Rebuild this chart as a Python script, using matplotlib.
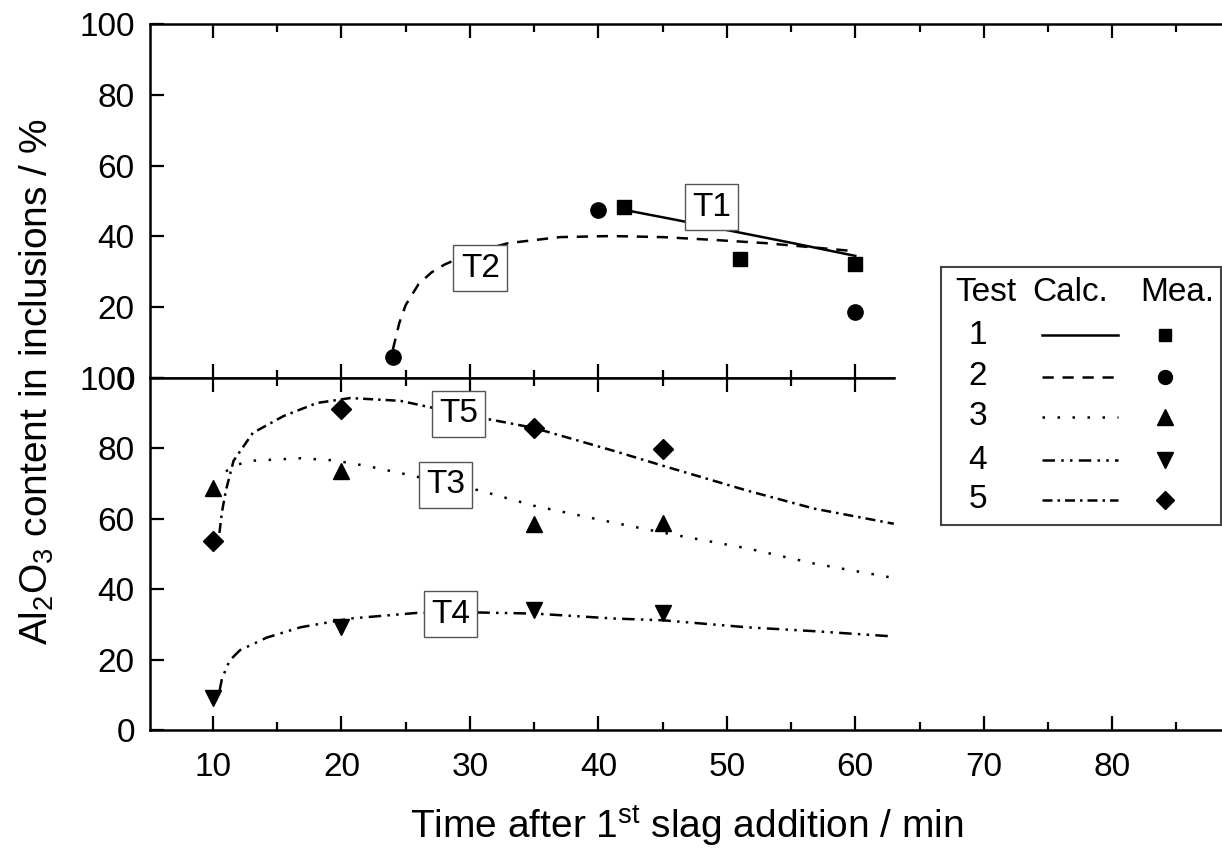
import matplotlib.pyplot as plt
from matplotlib.ticker import MultipleLocator

plt.rcParams['font.family'] = ['Liberation Sans', 'DejaVu Sans']
plt.rcParams['mathtext.default'] = 'regular'

# ---- data ----
# upper panel: tests 1 and 2
t1_x = [42, 51, 60]
t1_y = [48.3, 33.6, 32.2]
t1_calc_x = [42, 46, 50, 55, 60]
t1_calc_y = [47.5, 44.7, 41.8, 38.2, 34.5]

t2_x = [24, 40, 60]
t2_y = [5.9, 47.5, 18.6]
t2_calc_x = [24, 24.5, 25, 26, 27, 28, 30, 33, 37, 41, 45, 49, 53, 57, 60]
t2_calc_y = [8, 15.5, 20.6, 26.5, 29.8, 32, 35.2, 38.1, 39.8, 40.1, 39.8, 39, 38.1, 36.8, 35.8]

# lower panel: tests 3, 4, 5
meas_x = [10, 20, 35, 45]
t3_y = [68.8, 73.6, 58.4, 58.9]
t4_y = [9.1, 29.2, 34, 33.4]
t5_y = [53.8, 91.2, 85.8, 79.9]

t3_calc_x = [11, 12, 13.1, 16.8, 19.4, 22, 25.6, 30.8, 35, 41.2, 45, 51.6, 56.8, 63]
t3_calc_y = [73.5, 75.5, 76.5, 77.2, 76.6, 75, 72.2, 68, 63.7, 58.9, 56.1, 51.6, 47.3, 43.2]
t4_calc_x = [10.5, 10.7, 11.3, 12.1, 14.2, 16.8, 20.7, 25.9, 30.8, 35, 41.2, 45, 51.6, 56.8, 63]
t4_calc_y = [11, 14.7, 19.8, 22.7, 26.3, 29.2, 31.7, 33.3, 33.4, 33.1, 31.7, 31.2, 29.2, 28.1, 26.6]
t5_calc_x = [10.5, 10.7, 11, 11.6, 13.1, 15.5, 18.1, 20.7, 24.6, 27, 31.3, 35, 41.2, 45, 51.6, 56.8, 63]
t5_calc_y = [56, 62, 68, 76.5, 84.4, 89.2, 92.9, 94.3, 93.5, 91.6, 88.4, 85.8, 79.3, 75.1, 68, 62.9, 58.6]

top_labels = ['T1', 'T2']
top_label_x = [48.8, 30.8]
top_label_y = [48.3, 31]
bot_labels = ['T5', 'T3', 'T4']
bot_label_x = [29.1, 28.1, 28.5]
bot_label_y = [89.8, 69.7, 32.9]

x_ticks = [10, 20, 30, 40, 50, 60, 70, 80]

# ---- styles ----
lw = 1.8
ls1 = '-'
ls2 = (0, (4.5, 3.5))
ls3 = (0, (1, 5))
ls4 = (0, (5, 2.5, 1, 2.5, 1, 2.5))
ls5 = (0, (4, 2, 1, 2))
box = dict(boxstyle='square,pad=0.22', fc='white', ec='#555555', lw=1)

fig = plt.figure(figsize=(12.22, 8.59), dpi=100)
ax1 = fig.add_axes([0.1228, 0.560, 0.8788, 0.412])
ax2 = fig.add_axes([0.1228, 0.150, 0.8788, 0.410])

for ax in (ax1, ax2):
    ax.set_xlim(5.1, 88.7)
    ax.set_ylim(0, 100)
    ax.spines['right'].set_visible(False)
    for s in ax.spines.values():
        s.set_linewidth(1.8)
    ax.xaxis.set_major_locator(MultipleLocator(10))
    ax.xaxis.set_minor_locator(MultipleLocator(5))
    ax.yaxis.set_major_locator(MultipleLocator(20))
    ax.tick_params(axis='x', which='major', direction='in', top=True, bottom=True,
                   length=10, width=1.6, labelsize=24, pad=16)
    ax.tick_params(axis='x', which='minor', direction='in', top=True, bottom=True,
                   length=6, width=1.6)
    ax.tick_params(axis='y', which='major', direction='in', left=True, right=False,
                   length=10, width=1.6, labelsize=24, pad=11)

ax1.spines['bottom'].set_bounds(5.1, 63)
ax2.spines['top'].set_bounds(5.1, 63)
ax1.tick_params(axis='x', labelbottom=False)
ax2.set_xticks(x_ticks)

# upper panel
ax1.plot(t1_calc_x, t1_calc_y, color='black', lw=lw, ls=ls1)
ax1.plot(t2_calc_x, t2_calc_y, color='black', lw=lw, ls=ls2)
ax1.plot(t1_x, t1_y, 's', color='black', ms=10, ls='none')
ax1.plot(t2_x, t2_y, 'o', color='black', ms=11, ls='none')
for t, x, y in zip(top_labels, top_label_x, top_label_y):
    ax1.text(x, y, t, fontsize=24, ha='center', va='center', bbox=box, zorder=5)

# lower panel
ax2.plot(t3_calc_x, t3_calc_y, color='black', lw=lw, ls=ls3)
ax2.plot(t4_calc_x, t4_calc_y, color='black', lw=lw, ls=ls4)
ax2.plot(t5_calc_x, t5_calc_y, color='black', lw=lw, ls=ls5)
ax2.plot(meas_x, t3_y, '^', color='black', ms=12, ls='none')
ax2.plot(meas_x, t4_y, 'v', color='black', ms=12, ls='none')
ax2.plot(meas_x, t5_y, 'D', color='black', ms=10, ls='none')
for t, x, y in zip(bot_labels, bot_label_x, bot_label_y):
    ax2.text(x, y, t, fontsize=24, ha='center', va='center', bbox=box, zorder=5)

ax2.set_xlabel('Time after 1$^{st}$ slag addition / min', fontsize=28, labelpad=14)
fig.text(0.030, 0.555, 'Al$_2$O$_3$ content in inclusions / %', fontsize=28,
         rotation=90, ha='center', va='center')

# legend table
leg = fig.add_axes([0.770, 0.3888, 0.229, 0.3003])
leg.set_xlim(0, 1)
leg.set_ylim(0, 1)
leg.set_xticks([])
leg.set_yticks([])
leg.set_zorder(10)
for s in leg.spines.values():
    s.set_edgecolor('#444444')
    s.set_linewidth(1.5)
leg.text(0.16, 0.90, 'Test', fontsize=24, ha='center', va='center')
leg.text(0.46, 0.90, 'Calc.', fontsize=24, ha='center', va='center')
leg.text(0.845, 0.90, 'Mea.', fontsize=24, ha='center', va='center')
rows_y = [0.736, 0.574, 0.419, 0.252, 0.097]
styles = [ls1, ls2, ls3, ls4, ls5]
markers = [('s', 9), ('o', 10), ('^', 11), ('v', 11), ('D', 9)]
for i, (ry, st, mk) in enumerate(zip(rows_y, styles, markers)):
    leg.text(0.131, ry, str(i + 1), fontsize=24, ha='center', va='center')
    leg.plot([0.36, 0.633], [ry, ry], color='black', lw=lw, ls=st)
    leg.plot([0.802], [ry], mk[0], color='black', ms=mk[1])

# the shared middle spine stops at x = 63, drop its ticks beyond that
fig.canvas.draw()
for tk in ax1.xaxis.get_minor_ticks() + ax1.xaxis.get_major_ticks():
    if tk.get_loc() > 63:
        tk.tick1line.set_visible(False)
for tk in ax2.xaxis.get_minor_ticks() + ax2.xaxis.get_major_ticks():
    if tk.get_loc() > 63:
        tk.tick2line.set_visible(False)

fig.savefig('out.png', dpi=100)
